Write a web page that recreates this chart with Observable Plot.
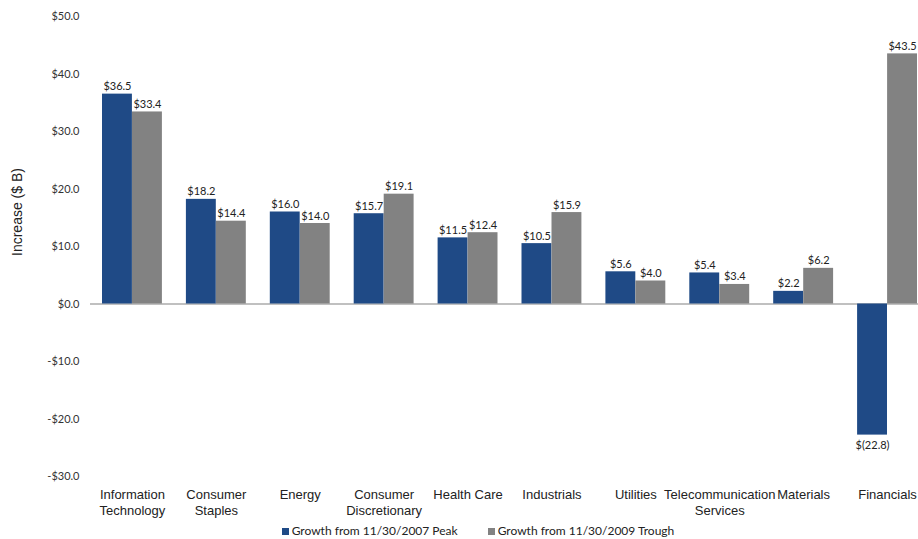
<!DOCTYPE html>
<html>
<head>
<meta charset="utf-8">
<script src="https://cdn.jsdelivr.net/npm/d3@7"></script>
<script src="https://cdn.jsdelivr.net/npm/@observablehq/plot@0.6"></script>
<style>
  html, body { margin: 0; padding: 0; background: #fff; }
  #wrap { position: relative; width: 918px; height: 539px; overflow: hidden; }
  #ytitle { position: absolute; left: 17px; top: 212px; transform: translate(-50%, -50%) rotate(-90deg);
    font-family: "Liberation Sans", Arial, sans-serif; font-size: 14px; color: #222; white-space: nowrap; }
  #legend { display: flex; justify-content: center; gap: 30px; height: 17px; align-items: center;
    font-family: Lato, "Open Sans", sans-serif; font-size: 12px; color: #222; padding-left: 38px; }
  #legend span.sw { display: inline-block; width: 7px; height: 7px; margin-right: 3px; vertical-align: middle; }
</style>
</head>
<body>
<div id="wrap">
  <div id="chart"></div>
  <div id="ytitle">Increase ($ B)</div>
  <div id="legend"></div>
</div>
<script>
const categories = ["Information\nTechnology", "Consumer\nStaples", "Energy", "Consumer\nDiscretionary", "Health Care", "Industrials", "Utilities", "Telecommunication\nServices", "Materials", "Financials"];
const peakValues = [36.5, 18.2, 16.0, 15.7, 11.5, 10.5, 5.6, 5.4, 2.2, -22.8];
const troughValues = [33.4, 14.4, 14.0, 19.1, 12.4, 15.9, 4.0, 3.4, 6.2, 43.5];
const seriesNames = ["Growth from 11/30/2007 Peak", "Growth from 11/30/2009 Trough"];
const seriesColors = ["#1f4a86", "#828282"];
const yTicks = [-30, -20, -10, 0, 10, 20, 30, 40, 50];

const peak = categories.map((c, i) => ({category: c, value: peakValues[i]}));
const trough = categories.map((c, i) => ({category: c, value: troughValues[i]}));

const fmtVal = v => v < 0 ? "$(" + Math.abs(v).toFixed(1) + ")" : "$" + v.toFixed(1);
const fmtTick = v => (v < 0 ? "-" : "") + "$" + Math.abs(v).toFixed(1);

const labelFont = "Lato, 'Open Sans', sans-serif";

const chart = Plot.plot({
  width: 918,
  height: 522,
  marginLeft: 90,
  marginRight: -11,
  marginTop: 16,
  marginBottom: 46,
  style: {background: "#fff", overflow: "visible"},
  x: {domain: categories, padding: 0, round: false, axis: null},
  y: {domain: [-30, 50], ticks: yTicks, tickFormat: fmtTick, label: null},
  marks: [
    Plot.ruleY([0], {stroke: "#c0c0c0", strokeWidth: 2}),
    Plot.barY(peak, {x: "category", y: "value", fill: seriesColors[0], insetLeft: 12, insetRight: 42}),
    Plot.barY(trough, {x: "category", y: "value", fill: seriesColors[1], insetLeft: 42, insetRight: 12}),
    Plot.text(peak.filter(d => d.value >= 0), {x: "category", y: "value", text: d => fmtVal(d.value), dx: -15, dy: -4, lineAnchor: "bottom", fontFamily: labelFont, fontSize: 11, fill: "#222"}),
    Plot.text(peak.filter(d => d.value < 0), {x: "category", y: "value", text: d => fmtVal(d.value), dx: -15, dy: 6, lineAnchor: "top", fontFamily: labelFont, fontSize: 11, fill: "#222"}),
    Plot.text(trough.filter(d => d.value >= 0), {x: "category", y: "value", text: d => fmtVal(d.value), dx: 15, dy: -4, lineAnchor: "bottom", fontFamily: labelFont, fontSize: 11, fill: "#222"}),
    Plot.text(trough.filter(d => d.value < 0), {x: "category", y: "value", text: d => fmtVal(d.value), dx: 15, dy: 6, lineAnchor: "top", fontFamily: labelFont, fontSize: 11, fill: "#222"}),
    Plot.axisY({ticks: yTicks, tickFormat: fmtTick, tickSize: 0, tickPadding: 11, fontFamily: labelFont, fontSize: 11, fill: "#333", label: null}),
    Plot.text(categories, {x: d => d, frameAnchor: "bottom", lineAnchor: "top", dy: 10, lineHeight: 1.3, fontFamily: "'Liberation Sans', Arial, sans-serif", fontSize: 13, fill: "#222"})
  ]
});
document.getElementById("chart").appendChild(chart);

const legend = document.getElementById("legend");
seriesNames.forEach((name, i) => {
  const item = document.createElement("div");
  item.innerHTML = `<span class="sw" style="background:${seriesColors[i]}"></span>${name}`;
  legend.appendChild(item);
});
</script>
</body>
</html>
